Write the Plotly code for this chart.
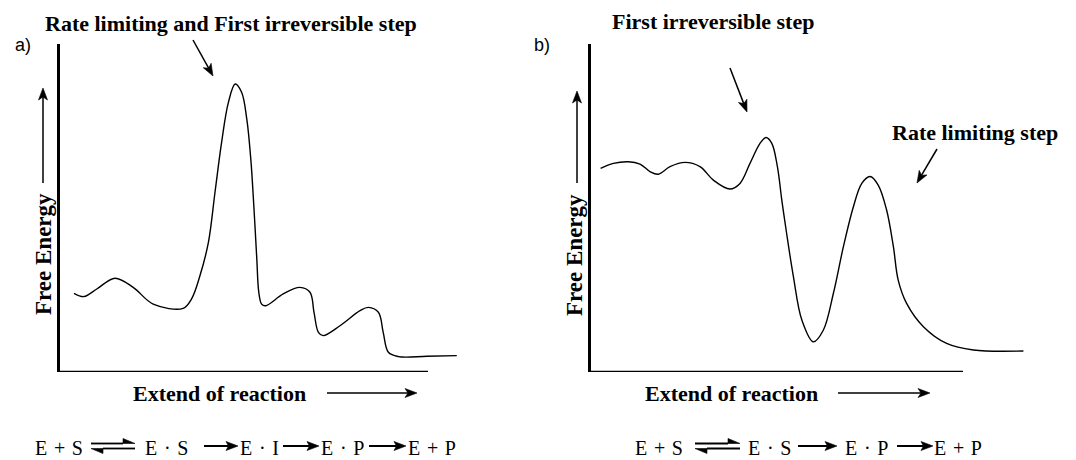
import plotly.graph_objects as go

W, H = 1076, 460

# ---- data: free-energy profiles along the reaction coordinate (arbitrary units) ----
# (a) E + S <=> E.S -> E.I -> E.P -> E + P
a_coord = [3.5, 6.0, 9.2, 13.75, 18.3, 23.3, 30.8, 32.9, 35.0, 37.1,
           38.75, 40.4, 42.1, 43.8, 45.4, 46.7, 47.7, 48.5, 49.2, 49.7,
           50.4, 51.4, 55.8, 60.0, 62.5, 63.5, 64.6, 65.8, 70.0, 75.0,
           77.1, 79.6, 80.8, 82.1, 84.6, 91.7, 99.2]
a_energy = [24.0, 23.0, 25.3, 28.6, 25.8, 20.7, 19.4, 22.3, 29.4, 39.5,
            54.8, 70.0, 82.2, 87.8, 85.3, 77.1, 64.9, 49.7, 34.5, 24.3,
            20.7, 20.2, 23.8, 25.8, 24.3, 18.2, 12.1, 11.1, 14.1, 18.7,
            19.7, 18.2, 12.1, 6.0, 4.7, 4.8, 5.0]

# (b) E + S <=> E.S -> E.P -> E + P
b_coord = [2.4, 5.6, 9.3, 12.25, 14.75, 16.8, 19.75, 23.5, 27.25, 30.6,
           34.75, 37.25, 39.75, 42.25, 43.75, 45.2, 46.6, 47.7, 48.9, 50.6,
           52.7, 55.6, 58.1, 60.6, 63.1, 65.6, 67.7, 69.75, 71.8, 73.9,
           75.6, 76.8, 78.9, 83.1, 88.9, 95.6, 108.1]
b_energy = [62.1, 63.6, 64.1, 63.4, 61.1, 60.3, 62.6, 63.9, 62.6, 58.5,
            55.8, 57.5, 63.6, 69.7, 71.5, 69.7, 62.6, 52.4, 42.3, 29.1,
            15.9, 9.2, 12.8, 24.0, 38.2, 50.4, 57.5, 59.6, 57.0, 49.4,
            38.2, 28.0, 20.9, 13.8, 8.7, 6.7, 6.4]

panel_letters = ["a)", "b)"]
panel_titles = ["Rate limiting and First irreversible step", "First irreversible step"]
rate_label = "Rate limiting step"
x_title = "Extend of reaction"
y_title = "Free Energy"
SP = "\u2004"  # three-per-em space
scheme_a = [f"E{SP}+{SP}S", f"E{SP}·{SP}S", f"E{SP}·{SP}I", f"E{SP}·{SP}P", f"E{SP}+{SP}P"]
scheme_b = [f"E{SP}+{SP}S", f"E{SP}·{SP}S", f"E{SP}·{SP}P", f"E{SP}+{SP}P"]

SERIF = "Liberation Serif"
SANS = "Liberation Sans"


def px(x):
    return x / W


def py(y):
    return 1 - y / H


def arrow(x0, y0, x1, y1, lw=1.5, hl=12, hw=4.5, notch=3, half=False):
    """Straight arrow (or one-sided harpoon) in page pixels, as shapes."""
    dx, dy = x1 - x0, y1 - y0
    L = (dx * dx + dy * dy) ** 0.5
    ux, uy = dx / L, dy / L
    nx, ny = -uy, ux
    bx, by = x1 - ux * hl, y1 - uy * hl
    mx, my = x1 - ux * (hl - notch), y1 - uy * (hl - notch)
    out = [dict(type="line", xref="paper", yref="paper",
                x0=px(x0), y0=py(y0), x1=px(mx), y1=py(my),
                line=dict(color="black", width=lw))]
    if half:
        pts = [(x1, y1), (bx - nx * hw, by - ny * hw), (mx, my)]
    else:
        pts = [(x1, y1), (bx + nx * hw, by + ny * hw), (mx, my), (bx - nx * hw, by - ny * hw)]
    path = "M " + " L ".join(f"{px(a):.5f},{py(b):.5f}" for a, b in pts) + " Z"
    out.append(dict(type="path", xref="paper", yref="paper", path=path,
                    fillcolor="black", line=dict(color="black", width=0.6)))
    return out


def text(x, y, s, size=22, family=SERIF, bold=True, angle=0):
    return dict(x=px(x), y=py(y), xref="paper", yref="paper", showarrow=False,
                text=f"<b>{s}</b>" if bold else s, textangle=angle,
                xanchor="center", yanchor="middle",
                font=dict(family=family, size=size, color="black"))


fig = go.Figure()
fig.add_trace(go.Scatter(x=a_coord, y=a_energy, mode="lines", xaxis="x", yaxis="y",
                         line=dict(color="black", width=1.4, shape="spline", smoothing=1.0),
                         hoverinfo="skip", showlegend=False))
fig.add_trace(go.Scatter(x=b_coord, y=b_energy, mode="lines", xaxis="x2", yaxis="y2",
                         line=dict(color="black", width=1.4, shape="spline", smoothing=1.0),
                         hoverinfo="skip", showlegend=False))

ydom = [py(372), py(44)]
ax_common = dict(showgrid=False, zeroline=False, showticklabels=False, ticks="")
fig.update_layout(
    width=W, height=H, margin=dict(l=0, r=0, t=0, b=0),
    paper_bgcolor="white", plot_bgcolor="white",
    xaxis=dict(domain=[px(60), px(460)], range=[0, 100], showline=False, **ax_common),
    yaxis=dict(domain=ydom, range=[0, 100], showline=True, linecolor="black",
               linewidth=2.5, anchor="x", **ax_common),
    xaxis2=dict(domain=[px(591), px(1031)], range=[0, 110], showline=False,
                anchor="y2", **ax_common),
    yaxis2=dict(domain=ydom, range=[0, 100], showline=True, linecolor="black",
                linewidth=2.5, anchor="x2", **ax_common),
)

shapes = [
    dict(type="line", xref="x", yref="y", x0=0, x1=92, y0=0, y1=0,
         line=dict(color="black", width=2.5)),
    dict(type="line", xref="x2", yref="y2", x0=0, x1=93, y0=0, y1=0,
         line=dict(color="black", width=2.5)),
]
# pointer arrows
shapes += arrow(193, 40, 213, 76)
shapes += arrow(730, 68, 747, 112)
shapes += arrow(937, 149, 917, 183)
# axis direction arrows
shapes += arrow(43, 183, 43, 88)
shapes += arrow(577, 183, 577, 91)
shapes += arrow(327, 393, 417, 393)
shapes += arrow(838, 393, 930, 393)
# reaction schemes
EQ_Y = 446
for x0, x1 in [(91, 135), (695, 740)]:
    shapes += arrow(x0, EQ_Y - 2.5, x1, EQ_Y - 2.5, lw=1.8, hl=12, hw=5, notch=0, half=True)
    shapes += arrow(x1, EQ_Y + 2.5, x0, EQ_Y + 2.5, lw=1.8, hl=12, hw=5, notch=0, half=True)
for x0, x1 in [(204, 238), (283, 319), (369, 406), (798, 837), (897, 933)]:
    shapes += arrow(x0, EQ_Y, x1, EQ_Y, lw=2, hl=12, hw=4.5, notch=2.5)
fig.update_layout(shapes=shapes)

ann = [
    text(23, 45, panel_letters[0], size=18, family=SANS, bold=False),
    text(542, 45, panel_letters[1], size=18, family=SANS, bold=False),
    text(230.5, 23, panel_titles[0]),
    text(712.5, 22, panel_titles[1]),
    text(975, 132, rate_label),
    text(219.5, 393, x_title),
    text(731, 393, x_title),
    text(43, 254, y_title, size=23, angle=-90),
    text(574, 255, y_title, size=23, angle=-90),
]
for cx, s in zip([59, 166, 259, 342, 432], scheme_a):
    ann.append(text(cx, EQ_Y + 1.5, s, size=20, bold=False))
for cx, s in zip([659, 769, 866, 958], scheme_b):
    ann.append(text(cx, EQ_Y + 1.5, s, size=20, bold=False))
fig.update_layout(annotations=ann)

fig.write_html("out.html")
